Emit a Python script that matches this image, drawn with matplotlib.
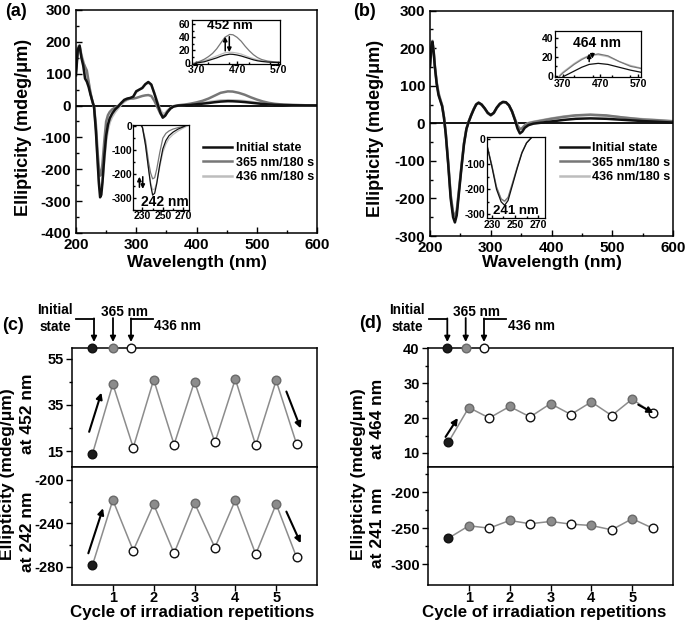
import matplotlib
matplotlib.use('Agg')
import matplotlib.pyplot as plt
from matplotlib.lines import Line2D
from matplotlib.ticker import MultipleLocator

plt.rcParams['font.family'] = ['Liberation Sans', 'DejaVu Sans']
plt.rcParams['font.weight'] = 'bold'
plt.rcParams['axes.labelweight'] = 'bold'
plt.rcParams['axes.unicode_minus'] = False
plt.rcParams['axes.linewidth'] = 1.1

W, H = 685, 622

# ---- (a) CD spectra ----
wl_a = [200, 203, 206, 209, 212, 215, 218, 221, 224, 227, 230, 233, 236, 238, 240, 242,
        244, 247, 250, 253, 256, 260, 265, 270, 275, 280, 285, 290, 295, 300, 305, 310,
        315, 320, 325, 330, 335, 340, 344, 348, 352, 357, 362, 370, 380, 390, 400, 410,
        420, 430, 440, 452, 460, 470, 480, 490, 500, 510, 520, 530, 545, 560, 580, 600]
a_init = [95, 175, 188, 150, 125, 85, 75, 58, 35, 15, -5, -80, -180, -245, -288, -280,
          -240, -160, -95, -60, -40, -25, -12, -3, 8, 18, 22, 24, 28, 45, 50, 55,
          67, 74, 66, 38, 8, -22, -38, -32, -20, -9, -3, 0, 1, 2, 4, 6,
          8, 10.5, 12.5, 13.8, 13.5, 12.5, 11, 9, 7, 5, 3.5, 2.5, 1.5, 1, 0.5, 0.3]
a_365 = [110, 180, 185, 155, 135, 122, 110, 75, 40, 15, -5, -60, -150, -195, -220, -215,
         -180, -110, -50, -30, -20, -12, -6, -1, 8, 15, 20, 22, 22, 24, 27, 30,
         32, 33, 30, 15, -5, -25, -35, -30, -18, -8, -2, 1, 3, 6, 10, 15,
         22, 31, 40, 44.5, 44, 40, 34, 26, 19, 13, 8.5, 5.5, 3, 2, 1, 0.5]
a_436 = [120, 185, 190, 160, 140, 115, 95, 70, 40, 15, -8, -75, -175, -235, -265, -262,
         -235, -170, -110, -75, -52, -35, -20, -8, 3, 12, 18, 22, 28, 42, 50, 56,
         66, 72, 64, 40, 12, -14, -26, -24, -15, -7, -2, 1, 2, 4, 6, 8.5,
         11, 13.5, 16, 16.8, 16.5, 15.5, 14, 11.5, 9, 7, 5, 3.5, 2.5, 1.5, 1, 0.5]

# ---- (b) CD spectra ----
wl_b = [200, 202, 204, 206, 208, 211, 214, 217, 220, 223, 226, 230, 234, 238, 241, 244,
        248, 252, 256, 260, 264, 268, 272, 276, 280, 285, 290, 295, 300, 305, 310, 315,
        320, 325, 330, 335, 340, 344, 348, 352, 356, 362, 370, 380, 400, 420, 440, 464,
        490, 520, 550, 575, 600]
b_init = [150, 195, 217, 190, 150, 105, 75, 60, 45, 15, -30, -110, -200, -250, -264, -245,
          -180, -115, -55, -15, 5, 22, 37, 50, 55, 50, 40, 28, 22, 28, 42, 52,
          57, 56, 48, 32, 8, -14, -27, -22, -12, -5, -1, 1, 5, 9, 12, 13.1,
          12, 9, 6, 4, 2]
b_365 = [155, 200, 218, 192, 152, 108, 80, 63, 47, 16, -28, -105, -190, -238, -247, -232,
         -172, -110, -52, -14, 6, 23, 38, 50, 54, 49, 39, 27, 21, 27, 41, 51,
         56, 55, 47, 31, 10, -6, -16, -13, -6, 0, 3, 6, 12, 17, 21, 23,
         21, 15, 10, 8, 5]
b_436 = [160, 205, 220, 195, 155, 110, 82, 64, 48, 17, -27, -105, -192, -240, -250, -236,
         -175, -112, -53, -14, 6, 23, 38, 51, 55, 50, 40, 28, 22, 28, 42, 52,
         57, 56, 48, 32, 11, -5, -15, -12, -5, 1, 4, 7, 13, 18, 21.5, 22,
         20, 15, 11, 8.5, 6]

labels = ['Initial state', '365 nm/180 s', '436 nm/180 s']
colors = ['#111111', '#777777', '#bdbdbd']

# ---- (c), (d) switching cycles ----
cycle_pos = [0.5, 1, 1.5, 2, 2.5, 3, 3.5, 4, 4.5, 5, 5.5]
c_452 = [13.8, 44.0, 16.6, 45.9, 17.9, 45.1, 18.8, 46.2, 17.5, 45.6, 18.1]
c_242 = [-278.8, -218.5, -265.2, -222.5, -267.7, -221.0, -262.5, -218.5, -268.6, -222.2, -271.4]
d_464 = [13.1, 23.0, 20.0, 23.3, 20.3, 24.1, 21.0, 24.6, 20.7, 25.4, 21.4]
d_241 = [-264, -246.7, -250, -239.3, -243.9, -240.7, -244.4, -246.3, -252.3, -236.9, -250]

fig = plt.figure(figsize=(6.85, 6.22), dpi=100)


def rect(l, t, r, b):
    return [l / W, 1 - b / H, (r - l) / W, (b - t) / H]


def ftext(x, y, s, **kw):
    kw.setdefault('ha', 'center')
    kw.setdefault('va', 'center')
    fig.text(x / W, 1 - y / H, s, **kw)


def fline(xs, ys, lw=1.3):
    fig.add_artist(Line2D([x / W for x in xs], [1 - y / H for y in ys],
                          transform=fig.transFigure, color='k', lw=lw))


def farrow(x0, y0, x1, y1, ms=8, lw=1.3):
    fig.add_artist(matplotlib.patches.FancyArrowPatch(
        (x0 / W, 1 - y0 / H), (x1 / W, 1 - y1 / H), transform=fig.transFigure,
        arrowstyle='-|>', mutation_scale=ms, color='k', lw=lw,
        shrinkA=0, shrinkB=0))


def draw_spec(ax, wl, series, lw):
    # light grey first, black on top
    hs = []
    for ys, c in list(zip(series, colors))[::-1]:
        hs.append(ax.plot(wl, ys, color=c, lw=lw)[0])
    return hs[::-1]


def spec_ticks(ax, size, major, minor_x, minor_y):
    ax.tick_params(which='both', direction='in', labelsize=size, width=1)
    ax.tick_params(which='major', length=major)
    ax.tick_params(which='minor', length=major * 0.6)
    ax.xaxis.set_minor_locator(MultipleLocator(minor_x))
    ax.yaxis.set_minor_locator(MultipleLocator(minor_y))


def inset(r, wl, series, xlim, ylim, xt, yt, mx, my):
    ax = fig.add_axes(r)
    draw_spec(ax, wl, series, 0.9)
    ax.set_xlim(*xlim)
    ax.set_ylim(*ylim)
    ax.set_xticks(xt)
    ax.set_yticks(yt)
    spec_ticks(ax, 7.5, 2.5, mx, my)
    ax.tick_params(pad=1)
    for s in ax.spines.values():
        s.set_linewidth(0.9)
    return ax


def small_arrow(ax, x, y0, y1):
    ax.annotate('', xy=(x, y1), xytext=(x, y0),
                arrowprops=dict(arrowstyle='-|>', color='k', lw=1.1, mutation_scale=6,
                                shrinkA=0, shrinkB=0))


def main_spec(r, wl, series, ylim, leg_xy):
    ax = fig.add_axes(r)
    hs = draw_spec(ax, wl, series, 1.8)
    ax.axhline(0, color='k', lw=1.3, zorder=0)
    ax.set_xlim(200, 600)
    ax.set_ylim(*ylim)
    ax.set_xticks(range(200, 601, 100))
    ax.set_yticks(range(ylim[0], ylim[1] + 1, 100))
    spec_ticks(ax, 11, 4, 50, 50)
    ax.legend(hs, labels, loc='upper left',
              bbox_to_anchor=(leg_xy[0] / W, 1 - leg_xy[1] / H),
              bbox_transform=fig.transFigure, frameon=False, fontsize=9,
              handlelength=2.3, handletextpad=0.3, labelspacing=0.22,
              borderpad=0, borderaxespad=0)
    return ax


# (a)
ser_a = [a_init, a_365, a_436]
ax_a = main_spec(rect(76, 10, 317, 233), wl_a, ser_a, (-400, 300), (203, 142))
ia1 = inset(rect(191.7, 20, 280, 64), wl_a, ser_a, (359, 575), (-1.5, 67),
            [370, 470, 570], [0, 20, 40, 60], 50, 10)
small_arrow(ia1, 441, 19, 41)
small_arrow(ia1, 451, 41, 17)
ia1.text(452, 58, '452 nm', ha='center', va='center', fontsize=9.5)
ia2 = inset(rect(133.3, 125, 189.3, 210), wl_a, ser_a, (221, 276), (-350, 5),
            [230, 250, 270], [0, -100, -200, -300], 10, 50)
small_arrow(ia2, 227, -255, -211)
small_arrow(ia2, 230.3, -211, -262)
ia2.text(252, -317, '242 nm', ha='center', va='center', fontsize=10)

# (b)
ser_b = [b_init, b_365, b_436]
ax_b = main_spec(rect(430, 10.6, 673, 236), wl_b, ser_b, (-300, 300), (560, 142))
ib1 = inset(rect(555, 31, 641, 77.3), wl_b, ser_b, (349, 578), (-1.5, 47),
            [370, 470, 570], [0, 20, 40], 50, 10)
small_arrow(ib1, 440, 15, 23.5)
small_arrow(ib1, 448.5, 23.5, 18)
ib1.text(462, 34, '464 nm', ha='center', va='center', fontsize=10)
ib2 = inset(rect(486.7, 137.3, 545, 218.3), wl_b, ser_b, (225.5, 276), (-316, 8),
            [230, 250, 270], [0, -100, -200, -300], 10, 50)
ib2.text(251, -285, '241 nm', ha='center', va='center', fontsize=9.5)

ftext(196.5, 262, 'Wavelength (nm)', fontsize=12.5)
ftext(24, 127, 'Ellipticity (mdeg/\u03bcm)', fontsize=13, rotation=90)
ftext(551.5, 262, 'Wavelength (nm)', fontsize=12.5)
ftext(376, 128, 'Ellipticity (mdeg/\u03bcm)', fontsize=13, rotation=90)
ftext(16, 11, '(a)', fontsize=13)
ftext(364, 11, '(b)', fontsize=13)


# ---- cycle panels ----
def state_style(i):
    if i == 0:
        return dict(mfc='#1c1c1c', mec='#111111')
    if i % 2 == 1:
        return dict(mfc='#8c8c8c', mec='#6a6a6a')
    return dict(mfc='white', mec='#111111')


def cycle_axis(r, vals, ylim, major, minor):
    ax = fig.add_axes(r)
    ax.plot(cycle_pos, vals, color='#8c8c8c', lw=1.1, zorder=1)
    for i, (x, v) in enumerate(zip(cycle_pos, vals)):
        ax.plot(x, v, 'o', ms=6.2, mew=1, zorder=3, **state_style(i))
    ax.set_xlim(0, 6)
    ax.set_ylim(*ylim)
    ax.set_yticks(major)
    ax.set_yticks(minor, minor=True)
    ax.tick_params(which='both', direction='out', labelsize=10.5, width=1, pad=2)
    ax.tick_params(which='major', length=4)
    ax.tick_params(which='minor', length=2.5)
    return ax


def arrow(ax, p0, p1):
    ax.annotate('', xy=p1, xytext=p0,
                arrowprops=dict(arrowstyle='-|>', color='k', lw=1.5, mutation_scale=9,
                                shrinkA=0, shrinkB=0))


def state_key(ax, xs, ytop):
    for i, x in enumerate(xs):
        ax.plot(x, ytop, 'o', ms=6.2, mew=1, zorder=6, clip_on=False, **state_style(i))


# (c)
ct = cycle_axis(rect(72, 348, 317, 467), c_452, (8.2, 59.6), [15, 35, 55], [25, 45])
ct.tick_params(axis='x', which='both', bottom=False, labelbottom=False)
cb = cycle_axis(rect(72, 467, 317, 585), c_242, (-297, -188), [-280, -240, -200], [-260, -220])
cb.set_xticks([1, 2, 3, 4, 5])
cb.tick_params(axis='x', pad=0)
arrow(ct, (0.42, 23.4), (0.72, 40.3))
arrow(ct, (5.25, 40.8), (5.6, 24.9))
arrow(cb, (0.4, -267.7), (0.76, -226.1))
arrow(cb, (5.25, -229.2), (5.6, -258.4))
state_key(ct, [0.5, 1.0, 1.45], 59.6)

# (d)
dt = cycle_axis(rect(428, 348, 673, 467), d_464, (6, 40), [10, 20, 30, 40], [15, 25, 35])
dt.tick_params(axis='x', which='both', bottom=False, labelbottom=False)
db = cycle_axis(rect(428, 467, 673, 585), d_241, (-329, -165), [-300, -250, -200], [-275, -225, -175])
db.set_xticks([1, 2, 3, 4, 5])
db.tick_params(axis='x', pad=0)
arrow(dt, (0.43, 14.6), (0.73, 20.0))
arrow(dt, (5.15, 23.8), (5.52, 21.4))
state_key(dt, [0.47, 0.92, 1.37], 40)

# key annotations above the state markers
for tx, (x0, x1, x2) in [(55, (94, 113, 131)), (407, (447.3, 465.7, 484))]:
    ftext(tx, 310, 'Initial', fontsize=9.8)
    ftext(tx, 327, 'state', fontsize=9.8)
    fline([x0 - 18, x0], [319, 319])
    farrow(x0, 318.4, x0, 342)
    ftext(x1 + 11, 312, '365 nm', fontsize=9.8)
    farrow(x1, 318, x1, 342)
    fline([x2 + 22, x2], [319, 319])
    ftext(x2 + 47, 326, '436 nm', fontsize=9.8)
    farrow(x2, 318.4, x2, 342)

ftext(192, 612, 'Cycle of irradiation repetitions', fontsize=12.2)
ftext(544, 612, 'Cycle of irradiation repetitions', fontsize=12.2)
ftext(8, 474, 'Ellipticity (mdeg/\u03bcm)', fontsize=12.5, rotation=90)
ftext(28, 414, 'at 452 nm', fontsize=12.5, rotation=90)
ftext(28, 532, 'at 242 nm', fontsize=12.5, rotation=90)
ftext(359, 474, 'Ellipticity (mdeg/\u03bcm)', fontsize=12.5, rotation=90)
ftext(377, 419, 'at 464 nm', fontsize=12.5, rotation=90)
ftext(377, 528, 'at 241 nm', fontsize=12.5, rotation=90)
ftext(13, 326, '(c)', fontsize=13)
ftext(370, 323, '(d)', fontsize=13)

fig.savefig('out.png', dpi=100)
